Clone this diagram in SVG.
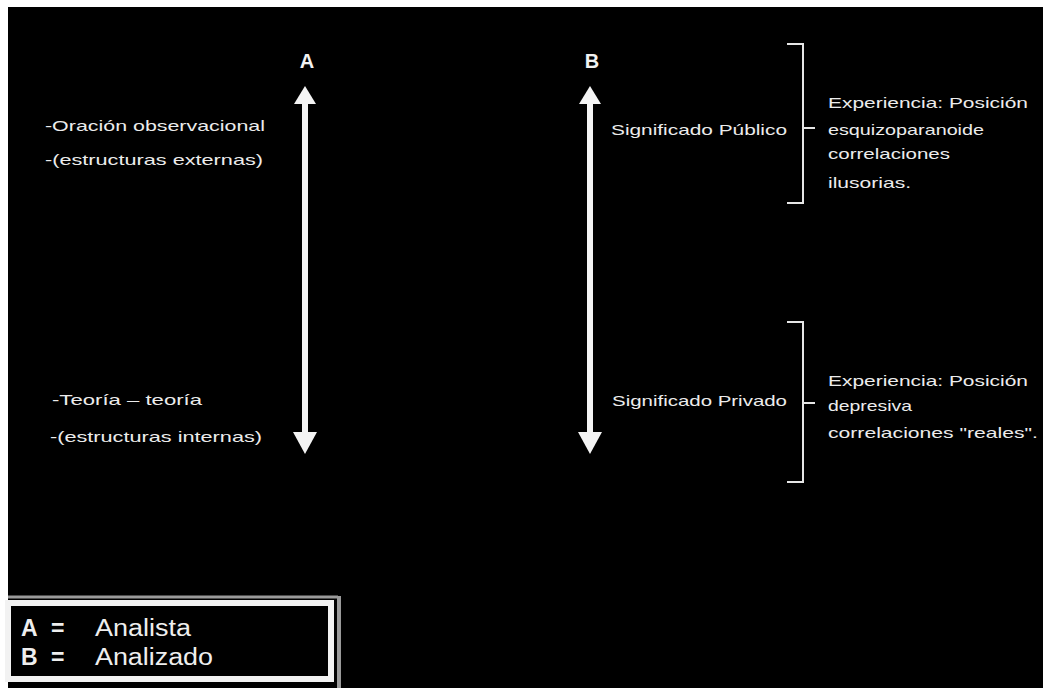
<svg xmlns="http://www.w3.org/2000/svg" width="1043" height="688" viewBox="0 0 1043 688">
<defs>
<style>
.t{font-family:"Liberation Sans",Arial,sans-serif;font-size:14.5px;fill:#ececec}
.h{font-family:"Liberation Sans",Arial,sans-serif;font-size:20px;font-weight:bold;fill:#f2f2f2}
.lg{font-family:"Liberation Sans",Arial,sans-serif;font-size:23px;fill:#eeeeee}
.lgb{font-family:"Liberation Sans",Arial,sans-serif;font-size:23px;font-weight:bold;fill:#eeeeee}
.ax{stroke:#f4f4f4;stroke-width:6;fill:none}
.hd{fill:#f4f4f4}
.br{stroke:#e6e6e6;stroke-width:2;fill:none}
</style>
</defs>
<rect x="0" y="0" width="1043" height="688" fill="#ffffff"/>
<rect x="8" y="7" width="1035" height="681" fill="#000000"/>

<g id="connectors">
<g id="arrowA">
<line class="ax" x1="305" y1="100" x2="305" y2="436"/>
<polygon class="hd" points="305,86 294,104 316,104"/>
<polygon class="hd" points="305,454 293,432 317,432"/>
</g>
<g id="arrowB">
<line class="ax" x1="590" y1="100" x2="590" y2="436"/>
<polygon class="hd" points="590,86 579,104 601,104"/>
<polygon class="hd" points="590,454 578,432 602,432"/>
</g>
<path id="brace1" class="br" d="M787,44 H803 V203 H787 M803,128 H815"/>
<path id="brace2" class="br" d="M787,322 H803 V482 H787 M803,403 H815"/>
</g>

<g id="labelA"><text class="h" x="307" y="68" text-anchor="middle">A</text></g>
<g id="labelB"><text class="h" x="592" y="68" text-anchor="middle">B</text></g>

<g id="leftTop">
<text class="t" x="45" y="131" textLength="220" lengthAdjust="spacingAndGlyphs">-Oración observacional</text>
<text class="t" x="45" y="165" textLength="218" lengthAdjust="spacingAndGlyphs">-(estructuras externas)</text>
</g>
<g id="leftBottom">
<text class="t" x="52" y="405" textLength="150" lengthAdjust="spacingAndGlyphs">-Teoría – teoría</text>
<text class="t" x="50" y="442" textLength="212" lengthAdjust="spacingAndGlyphs">-(estructuras internas)</text>
</g>

<g id="publico">
<text class="t" x="611" y="135" textLength="176" lengthAdjust="spacingAndGlyphs">Significado Público</text>
</g>
<g id="privado">
<text class="t" x="612" y="406" textLength="175" lengthAdjust="spacingAndGlyphs">Significado Privado</text>
</g>

<g id="exp1">
<text class="t" x="828" y="108" textLength="200" lengthAdjust="spacingAndGlyphs">Experiencia: Posición</text>
<text class="t" x="828" y="135" textLength="156" lengthAdjust="spacingAndGlyphs">esquizoparanoide</text>
<text class="t" x="828" y="159" textLength="122" lengthAdjust="spacingAndGlyphs">correlaciones</text>
<text class="t" x="828" y="188" textLength="83" lengthAdjust="spacingAndGlyphs">ilusorias.</text>
</g>
<g id="exp2">
<text class="t" x="828" y="386" textLength="200" lengthAdjust="spacingAndGlyphs">Experiencia: Posición</text>
<text class="t" x="828" y="411" textLength="84" lengthAdjust="spacingAndGlyphs">depresiva</text>
<text class="t" x="828" y="438" textLength="210" lengthAdjust="spacingAndGlyphs">correlaciones "reales".</text>
</g>

<g id="legend">
<line x1="8" y1="597" x2="338" y2="597" stroke="#9a9a9a" stroke-width="3"/>
<line x1="339" y1="596" x2="339" y2="688" stroke="#9a9a9a" stroke-width="4"/>
<rect x="8" y="603" width="323" height="76" fill="#000000" stroke="#f2f2f2" stroke-width="6"/>
<text class="lgb" x="21" y="636">A</text>
<text class="lgb" x="51" y="636">=</text>
<text class="lg" x="95" y="636" textLength="96" lengthAdjust="spacingAndGlyphs">Analista</text>
<text class="lgb" x="21" y="665">B</text>
<text class="lgb" x="51" y="665">=</text>
<text class="lg" x="95" y="665" textLength="118" lengthAdjust="spacingAndGlyphs">Analizado</text>
</g>
</svg>
